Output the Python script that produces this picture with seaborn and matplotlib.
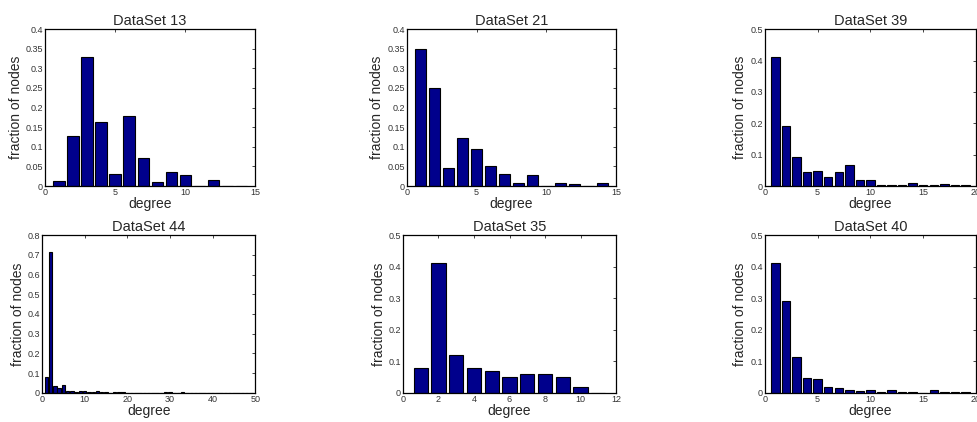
import numpy as np
import matplotlib
matplotlib.use("Agg")
import matplotlib.pyplot as plt
import seaborn as sns

# degree distributions (fraction of nodes per degree)
deg13 = list(range(1, 15))
frac13 = [0.013, 0.128, 0.328, 0.163, 0.032, 0.178, 0.071, 0.011, 0.037, 0.028,
          0.0, 0.016, 0.0, 0.0]

deg21 = list(range(1, 15))
frac21 = [0.349, 0.251, 0.047, 0.122, 0.094, 0.052, 0.032, 0.009, 0.028, 0.0,
          0.009, 0.006, 0.0, 0.009]

deg39 = list(range(1, 20))
frac39 = [0.410, 0.191, 0.093, 0.046, 0.048, 0.028, 0.046, 0.066, 0.021, 0.018,
          0.005, 0.005, 0.005, 0.010, 0.004, 0.004, 0.006, 0.003, 0.003]

deg44 = list(range(1, 50))
frac44 = [0.078, 0.713, 0.034, 0.027, 0.039, 0.010, 0.012, 0.002, 0.012, 0.008,
          0.006, 0.002, 0.012, 0.007, 0.007, 0.0, 0.002, 0.002, 0.002, 0.0,
          0.0, 0.0, 0.0, 0.0, 0.0, 0.0, 0.0, 0.0, 0.002, 0.002,
          0.0, 0.0, 0.002, 0.0, 0.0, 0.0, 0.0, 0.001, 0.0, 0.0,
          0.0, 0.0, 0.001, 0.0, 0.0, 0.0, 0.0, 0.0, 0.0]

deg35 = list(range(1, 12))
frac35 = [0.08, 0.41, 0.12, 0.08, 0.07, 0.05, 0.06, 0.06, 0.05, 0.02, 0.0]

deg40 = list(range(1, 20))
frac40 = [0.411, 0.292, 0.113, 0.048, 0.045, 0.018, 0.015, 0.010, 0.006, 0.010,
          0.003, 0.010, 0.003, 0.003, 0.0, 0.010, 0.003, 0.003, 0.003]

titles = ["DataSet 13", "DataSet 21", "DataSet 39", "DataSet 44", "DataSet 35", "DataSet 40"]

sns.set_style("white")
plt.rcParams["font.family"] = ["Liberation Sans", "DejaVu Sans"]

panels = [
    (deg13, frac13, (0, 15), np.arange(0, 16, 5), (0, 0.4), np.arange(0, 0.401, 0.05), [0.046, 0.559, 0.215, 0.372]),
    (deg21, frac21, (0, 15), np.arange(0, 16, 5), (0, 0.4), np.arange(0, 0.401, 0.05), [0.416, 0.559, 0.214, 0.372]),
    (deg39, frac39, (0, 20), np.arange(0, 21, 5), (0, 0.5), np.arange(0, 0.501, 0.1), [0.782, 0.559, 0.216, 0.372]),
    (deg44, frac44, (0, 50), np.arange(0, 51, 10), (0, 0.8), np.arange(0, 0.801, 0.1), [0.043, 0.069, 0.218, 0.374]),
    (deg35, frac35, (0, 12), np.arange(0, 13, 2), (0, 0.5), np.arange(0, 0.501, 0.1), [0.412, 0.069, 0.218, 0.374]),
    (deg40, frac40, (0, 20), np.arange(0, 21, 5), (0, 0.5), np.arange(0, 0.501, 0.1), [0.782, 0.069, 0.216, 0.374]),
]

fig = plt.figure(figsize=(9.78, 4.22), dpi=100)

for (deg, frac, xl, xt, yl, yt, pos), title in zip(panels, titles):
    ax = fig.add_axes(pos)
    sns.barplot(x=deg, y=frac, native_scale=True, width=0.8, color="#00008C",
                saturation=1, edgecolor="black", linewidth=0.8, ax=ax)
    ax.set_xlim(*xl)
    ax.set_ylim(*yl)
    ax.set_xticks(xt)
    ax.set_yticks(yt)
    ax.set_xticklabels([f"{v:g}" for v in xt])
    ax.set_yticklabels([f"{v:g}" for v in yt])
    ax.tick_params(direction="in", top=True, right=True, length=2.5, width=0.6,
                   labelsize=6.5, labelcolor="#333333", pad=1.5)
    for s in ax.spines.values():
        s.set_color("black")
        s.set_linewidth(0.9)
    ax.set_xlabel("degree", fontsize=10, labelpad=0)
    ax.set_ylabel("fraction of nodes", fontsize=10, labelpad=2)
    ax.set_title(title, fontsize=10.5, pad=3)

fig.savefig("out.png", dpi=100, facecolor="white")
